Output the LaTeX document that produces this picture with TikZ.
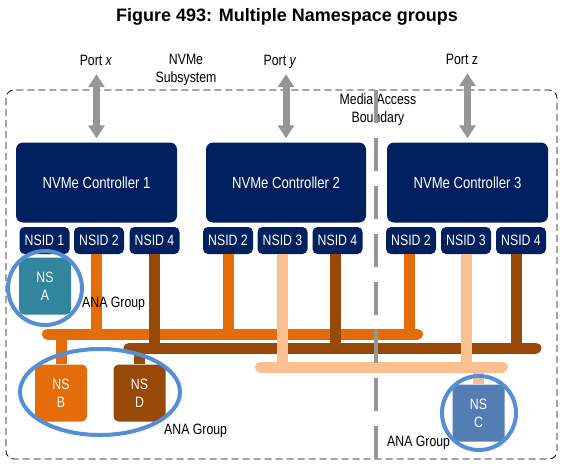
\documentclass[tikz,border=0pt]{standalone}
\usepackage{fontspec}
\setmainfont{Liberation Sans}
\newfontfamily\narrowsf[FakeStretch=0.82]{Liberation Sans}
\usetikzlibrary{arrows.meta,shapes.geometric}
\definecolor{ctrlnavy}{RGB}{0,32,96}
\definecolor{busorange}{RGB}{228,108,10}
\definecolor{busbrown}{RGB}{152,72,7}
\definecolor{buspeach}{RGB}{250,192,144}
\definecolor{nsteal}{RGB}{49,133,156}
\definecolor{nsblue}{RGB}{84,125,180}
\definecolor{groupring}{RGB}{85,142,213}
\definecolor{portgray}{RGB}{150,150,150}

\begin{document}
\begin{tikzpicture}[x=1pt, y=-1pt,
  every node/.style={font=\narrowsf\fontsize{15}{18}\selectfont},
  ctrl/.style={rectangle, rounded corners=7pt, fill=ctrlnavy, text=white, minimum width=161pt, minimum height=80pt, font=\narrowsf\fontsize{16}{18}\selectfont},
  nsid/.style={rectangle, rounded corners=5pt, fill=ctrlnavy, text=white, minimum width=50pt, minimum height=27pt, inner sep=0pt},
  ns/.style={rectangle, rounded corners=5pt, text=white, minimum width=52pt, minimum height=57pt, align=center, inner sep=0pt},
  portlbl/.style={text height=11pt, text depth=3pt, inner sep=2pt},
  lbl/.style={inner sep=0pt, anchor=west},
  bus/.style={line width=11pt, line cap=round},
  drop/.style={line width=11pt},
  ring/.style={draw=groupring, line width=4pt, inner sep=0pt},
  portarrow/.style={draw=portgray, line width=7pt, {Triangle[width=16pt,length=13pt]}-{Triangle[width=16pt,length=13pt]}, shorten <=4pt, shorten >=4pt},
  mabline/.style={draw=portgray, line width=4pt, dash pattern=on 33pt off 15pt},
]
\useasboundingbox (0,0) rectangle (564,466);

\node[font=\bfseries\fontsize{18}{20}\selectfont] (title) at (287,17) {Figure 493: Multiple Namespace groups};

% subsystem frame
\draw[line width=0.8pt, dash pattern=on 7pt off 4pt, rounded corners=8pt] (6,90) rectangle (557,459);

\node[portlbl] (portx) at (96,61) {Port \textit{x}};
\node[portlbl] (porty) at (280,61) {Port \textit{y}};
\node[portlbl] (portz) at (462,60) {Port z};
\node[align=center] (subsys) at (186,70) {NVMe\\Subsystem};
\node[align=center] (mab) at (378,110) {Media Access\\Boundary};

\node[ctrl] (ctrl1) at (96.5,182.5) {NVMe Controller 1};
\node[ctrl, minimum width=160pt] (ctrl2) at (286,182.5) {NVMe Controller 2};
\node[ctrl] (ctrl3) at (467.5,182.5) {NVMe Controller 3};

\draw[portarrow] (portx.south -| ctrl1.north) -- (ctrl1.north);
\draw[portarrow] (porty.south -| ctrl2.north) -- (ctrl2.north);
\draw[portarrow] (portz.south -| ctrl3.north) -- (ctrl3.north);

\node[nsid] (c1n1) at (44.5,240.5) {NSID 1};
\node[nsid] (c1n2) at (99,240.5) {NSID 2};
\node[nsid] (c1n4) at (154.5,240.5) {NSID 4};
\node[nsid] (c2n2) at (228,240.5) {NSID 2};
\node[nsid] (c2n3) at (282.5,240.5) {NSID 3};
\node[nsid] (c2n4) at (337.5,240.5) {NSID 4};
\node[nsid] (c3n2) at (411,240.5) {NSID 2};
\node[nsid] (c3n3) at (466,240.5) {NSID 3};
\node[nsid] (c3n4) at (521,240.5) {NSID 4};

\node[ns, fill=nsteal] (nsA) at (45,286) {NS\\A};
\node[ns, fill=busorange] (nsB) at (61,393) {NS\\B};
\node[ns, fill=busbrown] (nsD) at (139.5,393) {NS\\D};
\node[ns, fill=nsblue] (nsC) at (478.5,413) {NS\\C};

\coordinate (obusL) at (47.5,334);
\coordinate (obusR) at (417.5,334);
\coordinate (bbusL) at (129,348);
\coordinate (bbusR) at (536,348);
\coordinate (pbusL) at (260.5,367);
\coordinate (pbusR) at (502.5,367);

% orange group
\draw[bus, busorange] (obusL) -- (obusR);
\draw[drop, busorange] ([xshift=-3pt]c1n2.south) -- ([xshift=-3pt]c1n2.south |- obusL);
\draw[drop, busorange] (c2n2.south) -- (c2n2.south |- obusL);
\draw[drop, busorange] ([xshift=-2pt]c3n2.south) -- ([xshift=-2pt]c3n2.south |- obusL);
\draw[drop, busorange] (nsB.north) -- (nsB.north |- obusL);
% brown group
\draw[bus, busbrown] (bbusL) -- (bbusR);
\draw[drop, busbrown] (c1n4.south) -- (c1n4.south |- bbusL);
\draw[drop, busbrown] ([xshift=-2.5pt]c2n4.south) -- ([xshift=-2.5pt]c2n4.south |- bbusL);
\draw[drop, busbrown] ([xshift=-5pt]c3n4.south) -- ([xshift=-5pt]c3n4.south |- bbusL);
\draw[drop, busbrown] (nsD.north) -- (nsD.north |- bbusL);
% peach group
\draw[bus, buspeach] (pbusL) -- (pbusR);
\draw[drop, buspeach] (c2n3.south) -- (c2n3.south |- pbusL);
\draw[drop, buspeach] (c3n3.south) -- (c3n3.south |- pbusL);
\draw[drop, buspeach] (nsC.north) -- (nsC.north |- pbusL);

\node[ring, circle, minimum size=74pt] (grpA) at (45,288) {};
\node[ring, ellipse, minimum width=160pt, minimum height=86pt] (grpBD) at (100,392) {};
\node[ring, circle, minimum size=74pt] (grpC) at (479,413) {};

\node[lbl] (anaA) at (82,304) {ANA Group};
\node[lbl] (anaBD) at (164,431) {ANA Group};
\node[lbl] (anaC) at (387,443) {ANA Group};

\coordinate (mabtop) at (376,90);
\coordinate (mabbot) at (376,466);
\draw[mabline] (mabtop) -- (mabbot);
\end{tikzpicture}
\end{document}
